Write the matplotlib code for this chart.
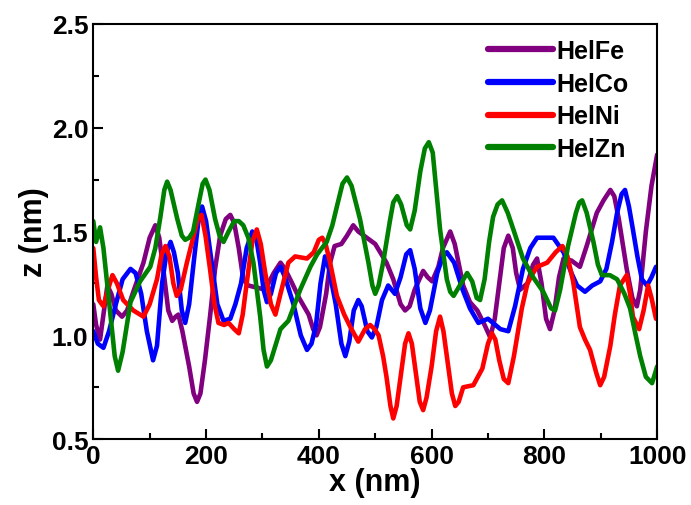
import numpy as np
import matplotlib.pyplot as plt
from matplotlib.ticker import MultipleLocator

plt.rcParams['font.family'] = ['Liberation Sans', 'DejaVu Sans']
plt.rcParams['font.weight'] = 'bold'

# HelFe
fe_x = [0, 5, 12, 18, 25, 32, 40, 51, 60, 71, 89, 100, 110, 117, 125, 133, 140, 146, 151, 158,
        170, 178, 184, 190, 198, 207, 216, 225, 235, 243, 250, 258, 266, 275, 290, 305, 320, 332, 340,
        351, 365, 382, 390, 396, 402, 413, 420, 428, 440, 450, 461, 470, 480, 500, 520, 532, 545, 553,
        561, 570, 585, 593, 601, 612, 620, 633, 641, 656, 668, 681, 694, 704, 712, 720, 728, 736, 744,
        750, 757, 770, 780, 787, 795, 803, 810, 818, 826, 834, 848, 863, 875, 893, 905, 917, 924, 932,
        946, 956, 964, 970, 980, 990, 1000]
fe_z = [1.15, 1.05, 0.98, 1.10, 1.24, 1.20, 1.12, 1.09, 1.12, 1.21, 1.35, 1.47, 1.53, 1.47, 1.30, 1.12, 1.07, 1.09, 1.10, 1.02,
        0.85, 0.72, 0.68, 0.72, 0.88, 1.09, 1.32, 1.48, 1.56, 1.58, 1.54, 1.42, 1.27, 1.24, 1.23, 1.22, 1.30, 1.35, 1.32,
        1.26, 1.18, 1.10, 1.03, 1.00, 1.04, 1.20, 1.35, 1.43, 1.44, 1.48, 1.53, 1.50, 1.48, 1.44, 1.35, 1.27, 1.15, 1.12,
        1.14, 1.22, 1.31, 1.28, 1.26, 1.33, 1.42, 1.50, 1.44, 1.24, 1.16, 1.12, 1.05, 0.99, 1.08, 1.25, 1.42, 1.48, 1.42,
        1.30, 1.22, 1.25, 1.34, 1.37, 1.25, 1.08, 1.03, 1.12, 1.28, 1.37, 1.36, 1.33, 1.43, 1.59, 1.65, 1.70, 1.67, 1.56,
        1.32, 1.18, 1.14, 1.22, 1.50, 1.72, 1.87]

# HelCo
co_x = [0, 8, 18, 28, 40, 52, 66, 75, 85, 95, 106, 113, 122, 130, 137, 143, 150, 157, 163, 170,
        178, 186, 193, 200, 210, 220, 231, 243, 252, 262, 272, 282, 290, 296, 302, 308, 315, 324, 332,
        340, 355, 368, 379, 387, 395, 403, 411, 418, 430, 440, 447, 454, 462, 470, 476, 486, 494, 502,
        512, 523, 535, 545, 555, 562, 570, 580, 589, 597, 610, 620, 627, 640, 655, 668, 683, 700, 722,
        736, 748, 762, 775, 787, 800, 816, 834, 848, 858, 872, 885, 899, 910, 920, 929, 937, 943, 950,
        957, 965, 973, 982, 990, 998]
co_z = [1.02, 0.96, 0.94, 1.02, 1.15, 1.27, 1.32, 1.30, 1.20, 1.02, 0.88, 0.95, 1.25, 1.40, 1.45, 1.40, 1.30, 1.12, 1.06, 1.15,
        1.35, 1.54, 1.62, 1.55, 1.35, 1.15, 1.07, 1.08, 1.15, 1.25, 1.42, 1.50, 1.45, 1.35, 1.22, 1.16, 1.20, 1.30, 1.33,
        1.28, 1.15, 1.00, 0.93, 0.96, 1.05, 1.25, 1.38, 1.32, 1.15, 0.96, 0.90, 0.97, 1.12, 1.17, 1.14, 1.02, 0.99, 1.04,
        1.17, 1.24, 1.20, 1.28, 1.39, 1.41, 1.32, 1.13, 1.06, 1.12, 1.30, 1.38, 1.40, 1.35, 1.22, 1.13, 1.06, 1.08, 1.03,
        1.02, 1.14, 1.32, 1.42, 1.47, 1.47, 1.47, 1.40, 1.30, 1.24, 1.21, 1.24, 1.26, 1.32, 1.45, 1.59, 1.68, 1.70, 1.62,
        1.51, 1.38, 1.27, 1.24, 1.28, 1.33]

# HelNi
ni_x = [0, 5, 10, 18, 26, 34, 42, 53, 71, 89, 100, 113, 121, 128, 135, 142, 148, 155, 166, 178,
        186, 192, 199, 207, 215, 222, 232, 240, 250, 258, 265, 272, 282, 290, 297, 305, 315, 323, 332,
        346, 358, 379, 391, 400, 406, 412, 420, 432, 445, 456, 470, 482, 491, 499, 506, 514, 520, 527,
        532, 538, 546, 553, 559, 565, 572, 579, 585, 591, 600, 608, 615, 621, 628, 636, 642, 648, 656,
        674, 690, 700, 707, 713, 720, 728, 736, 746, 760, 770, 780, 787, 805, 820, 832, 841, 851, 863,
        872, 881, 892, 899, 906, 917, 925, 934, 946, 952, 957, 968, 976, 984, 990, 998]
ni_z = [1.42, 1.28, 1.17, 1.14, 1.22, 1.29, 1.25, 1.17, 1.12, 1.09, 1.15, 1.27, 1.39, 1.43, 1.38, 1.25, 1.19, 1.22, 1.35, 1.48,
        1.57, 1.58, 1.48, 1.32, 1.15, 1.06, 1.05, 1.06, 1.03, 1.01, 1.10, 1.25, 1.45, 1.51, 1.44, 1.30, 1.15, 1.10, 1.20,
        1.35, 1.38, 1.37, 1.40, 1.46, 1.47, 1.44, 1.35, 1.19, 1.10, 1.04, 0.97, 1.03, 1.05, 1.03, 1.00, 0.90, 0.80, 0.66,
        0.60, 0.66, 0.82, 0.96, 1.01, 0.96, 0.82, 0.68, 0.64, 0.70, 0.85, 1.02, 1.09, 1.02, 0.88, 0.72, 0.66, 0.68, 0.75,
        0.76, 0.84, 0.96, 1.01, 0.98, 0.88, 0.79, 0.77, 0.90, 1.13, 1.25, 1.30, 1.33, 1.35, 1.40, 1.43, 1.38, 1.26, 1.04,
        0.98, 0.93, 0.82, 0.76, 0.80, 0.95, 1.10, 1.24, 1.29, 1.20, 1.09, 1.03, 1.12, 1.24, 1.18, 1.08]

# HelZn
zn_x = [0, 5, 12, 18, 30, 38, 44, 52, 66, 83, 101, 110, 119, 126, 131, 137, 149, 157, 163, 170,
        177, 188, 194, 199, 206, 216, 224, 231, 240, 250, 258, 266, 275, 284, 290, 296, 302, 308, 315,
        332, 346, 367, 385, 397, 414, 424, 432, 442, 450, 458, 473, 488, 495, 500, 506, 514, 526, 532,
        539, 546, 556, 562, 570, 580, 588, 595, 602, 615, 627, 633, 639, 650, 663, 672, 680, 686, 694,
        702, 709, 717, 725, 735, 745, 762, 780, 798, 812, 819, 828, 842, 856, 862, 867, 875, 887, 895,
        902, 916, 929, 942, 952, 962, 970, 980, 991, 1000]
zn_z = [1.55, 1.45, 1.52, 1.42, 1.11, 0.90, 0.83, 0.92, 1.16, 1.26, 1.33, 1.42, 1.57, 1.70, 1.74, 1.70, 1.56, 1.48, 1.46, 1.47,
        1.50, 1.65, 1.73, 1.75, 1.70, 1.56, 1.48, 1.45, 1.50, 1.55, 1.55, 1.53, 1.47, 1.35, 1.22, 1.09, 0.93, 0.85, 0.88,
        1.03, 1.07, 1.22, 1.33, 1.39, 1.45, 1.53, 1.62, 1.73, 1.76, 1.72, 1.56, 1.35, 1.24, 1.20, 1.24, 1.35, 1.55, 1.64,
        1.67, 1.63, 1.53, 1.51, 1.60, 1.79, 1.90, 1.93, 1.88, 1.51, 1.27, 1.21, 1.19, 1.24, 1.30, 1.26, 1.18, 1.17, 1.27,
        1.45, 1.57, 1.63, 1.65, 1.59, 1.51, 1.37, 1.28, 1.21, 1.13, 1.12, 1.22, 1.43, 1.59, 1.64, 1.65, 1.59, 1.45, 1.34,
        1.29, 1.29, 1.27, 1.20, 1.13, 1.00, 0.90, 0.80, 0.77, 0.85]

series = [
    ("HelFe", fe_x, fe_z, "#800080"),
    ("HelCo", co_x, co_z, "#0000ff"),
    ("HelNi", ni_x, ni_z, "#ff0000"),
    ("HelZn", zn_x, zn_z, "#008000"),
]

fig = plt.figure(figsize=(6.91, 5.06), dpi=100)
ax = fig.add_axes([0.135, 0.130, 0.816, 0.821])

for name, x, z, c in series:
    ax.plot(x, z, color=c, lw=3.3, label=name, solid_joinstyle='round', solid_capstyle='round')

ax.set_xlim(0, 1000)
ax.set_ylim(0.5, 2.5)
ax.xaxis.set_major_locator(MultipleLocator(200))
ax.xaxis.set_minor_locator(MultipleLocator(100))
ax.yaxis.set_major_locator(MultipleLocator(0.5))
ax.yaxis.set_minor_locator(MultipleLocator(0.25))
ax.tick_params(which='both', direction='in', labelsize=19, width=1.5)
ax.tick_params(which='major', length=7)
ax.tick_params(which='minor', length=4)
for s in ax.spines.values():
    s.set_linewidth(1.5)

ax.set_xlabel("x (nm)", fontsize=22, fontweight='bold', labelpad=-1)
ax.set_ylabel("z (nm)", fontsize=22, fontweight='bold', labelpad=2)

leg = ax.legend(loc='upper right', bbox_to_anchor=(0.985, 1.012), frameon=False, fontsize=18,
                handlelength=2.6, handletextpad=0.15, labelspacing=0.35, borderaxespad=0.4)
for line in leg.get_lines():
    line.set_linewidth(4.5)

fig.savefig("out.png", dpi=100)
